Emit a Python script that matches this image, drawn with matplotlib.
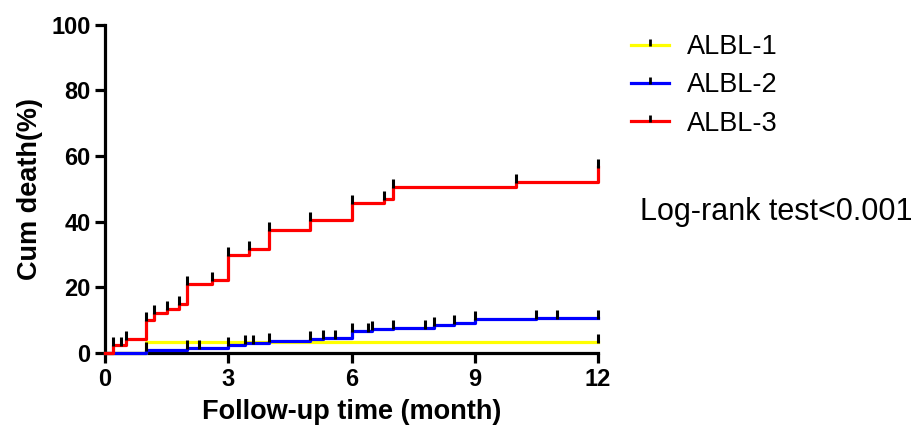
import numpy as np
import matplotlib
matplotlib.use("Agg")
import matplotlib.pyplot as plt
from matplotlib.path import Path
from matplotlib.lines import Line2D

plt.rcParams['font.family'] = ['Liberation Sans', 'DejaVu Sans']

# step curves: time of step, level after the step (%)
t1 = [0, 1.0, 12.0]
y1 = [0, 3.3, 3.3]
c1 = [12.0]

t2 = [0, 1.0, 2.0, 3.0, 3.4, 4.0, 5.0, 5.3, 6.0, 6.5, 7.0, 8.0, 8.5, 9.0, 10.5, 12.0]
y2 = [0, 0.9, 1.5, 2.3, 3.0, 3.6, 4.2, 4.7, 6.6, 7.4, 7.7, 8.6, 9.0, 10.3, 10.8, 10.8]
c2 = [1.0, 2.0, 2.3, 3.0, 3.4, 3.6, 4.0, 5.0, 5.3, 5.6, 6.0, 6.4, 6.5, 7.0, 7.8, 8.0, 8.5, 9.0, 10.5, 11.0, 12.0]

t3 = [0, 0.2, 0.5, 1.0, 1.2, 1.5, 1.8, 2.0, 2.6, 3.0, 3.5, 4.0, 5.0, 6.0, 6.8, 7.0, 10.0, 12.0]
y3 = [0, 2.3, 4.4, 10.2, 12.1, 13.3, 14.8, 21.0, 22.3, 30.0, 31.6, 37.6, 40.6, 45.7, 47.0, 50.6, 52.0, 56.6]
c3 = [0.2, 0.4, 0.5, 1.0, 1.2, 1.5, 1.8, 2.0, 2.6, 3.0, 3.5, 4.0, 5.0, 6.0, 6.8, 7.0, 10.0, 12.0]

names = ['ALBL-1', 'ALBL-2', 'ALBL-3']
colors = ['#FFFF00', '#0000FF', '#FF0000']

tick = Path([(0, -0.15), (0, 1)], [Path.MOVETO, Path.LINETO])


def level_at(t, y, c):
    idx = np.searchsorted(t, c, side='right') - 1
    return np.array(y)[idx]


def drawCurve(ax, t, y, c, col):
    ax.step(t, y, where='post', color=col, lw=2.3, clip_on=False, zorder=3)
    ax.plot(c, level_at(t, y, c), ls='none', marker=tick, ms=11.5,
            mec='k', mew=2.2, clip_on=False, zorder=4)


fig = plt.figure(figsize=(9.22, 4.30), dpi=100)
ax = fig.add_axes([105 / 922, 1 - 353 / 430, 493 / 922, 328.3 / 430])

drawCurve(ax, t1, y1, c1, colors[0])
drawCurve(ax, t2, y2, c2, colors[1])
drawCurve(ax, t3, y3, c3, colors[2])

ax.set_xlim(0, 12)
ax.set_ylim(0, 100)
ax.set_xticks([0, 3, 6, 9, 12])
ax.set_yticks([0, 20, 40, 60, 80, 100])
for s in ['top', 'right']:
    ax.spines[s].set_visible(False)
for s in ['left', 'bottom']:
    ax.spines[s].set_linewidth(2.3)
ax.tick_params(width=2.3, length=7.5, labelsize=17, pad=3)
for lab in ax.get_xticklabels() + ax.get_yticklabels():
    lab.set_fontweight('bold')
ax.set_xlabel('Follow-up time (month)', fontsize=19.5, fontweight='bold', labelpad=6)
ax.set_ylabel('Cum death(%)', fontsize=19.5, fontweight='bold', labelpad=6)

handles = [Line2D([], [], color=col, lw=2.3, marker=tick, ms=9, mec='k', mew=2)
           for col in colors]
fig.legend(handles, names, loc='upper left', bbox_to_anchor=(631 / 922, 1 - 34 / 430),
           frameon=False, fontsize=19.5, handlelength=1.4, handletextpad=0.67,
           labelspacing=0.46, borderpad=0, borderaxespad=0, numpoints=1)

fig.text(640 / 922, 1 - 212 / 430, 'Log-rank test<0.001', fontsize=22, va='center', ha='left')

fig.savefig('out.png', dpi=100)
